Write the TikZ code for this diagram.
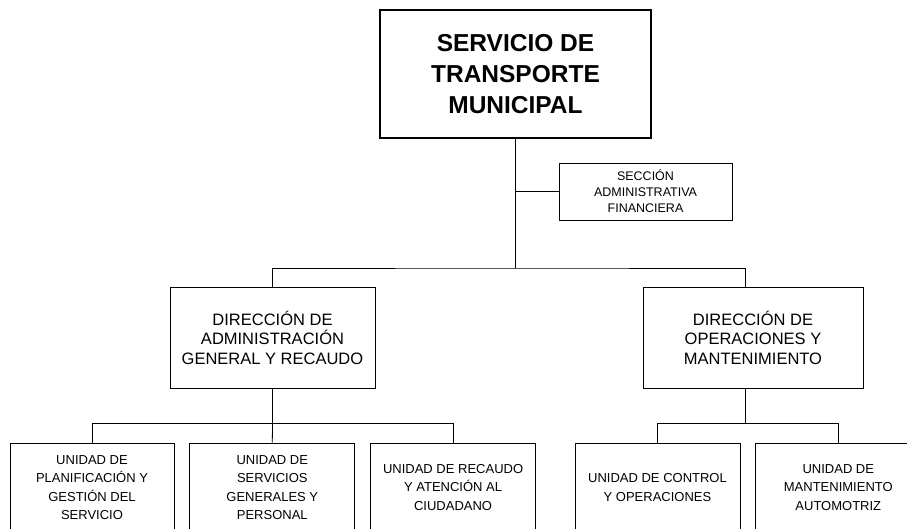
\documentclass[tikz,border=0pt]{standalone}
\usepackage{fontspec}
\setmainfont{Liberation Sans}
\usepackage{tikz}
\usetikzlibrary{positioning, calc}

\begin{document}
\begin{tikzpicture}[x=1pt, y=1pt, line width=0.8pt,
    every node/.style={align=center, draw=black, inner sep=2pt},
    headbox/.style={line width=1.6pt, minimum width=271pt, minimum height=128pt, font=\fontsize{24.5}{31}\selectfont\bfseries},
    secbox/.style={minimum width=173pt, minimum height=57pt, font=\fontsize{12.5}{16}\selectfont},
    dirbox/.style={minimum height=101pt, font=\fontsize{16.5}{19.5}\selectfont},
    unitbox/.style={minimum width=165pt, minimum height=89pt, font=\fontsize{13}{18.3}\selectfont}]
  \useasboundingbox (0,0) rectangle (907,529);
  % top level
  \node[headbox] (top) at (515.5,455) {SERVICIO DE\\TRANSPORTE\\MUNICIPAL};
  \node[secbox] (sec) at (645.5,337.5) {SECCIÓN\\ADMINISTRATIVA\\FINANCIERA};
  % directions
  \node[dirbox, minimum width=205pt] (dadm) at (272.5,337.5-146) {DIRECCIÓN DE\\ADMINISTRACIÓN\\GENERAL Y RECAUDO};
  \node[dirbox, minimum width=220pt] (dope) at (753,337.5-146) {DIRECCIÓN DE\\OPERACIONES Y\\MANTENIMIENTO};
  % units
  \node[unitbox, minimum width=164pt] (uplan) at (92,41.5) {UNIDAD DE\\PLANIFICACIÓN Y\\GESTIÓN DEL\\SERVICIO};
  \node[unitbox, right=15pt of uplan] (userv) {UNIDAD DE\\SERVICIOS\\GENERALES Y\\PERSONAL};
  \node[unitbox, right=15pt of userv] (urec) {UNIDAD DE RECAUDO\\Y ATENCIÓN AL\\CIUDADANO};
  \node[unitbox] (uctrl) at (657.5,41.5) {UNIDAD DE CONTROL\\Y OPERACIONES};
  \node[unitbox, right=15pt of uctrl] (umant) {UNIDAD DE\\MANTENIMIENTO\\AUTOMOTRIZ};
  % connectors
  \coordinate (hub) at (515.5,261);
  \draw (top.south) -- (hub);
  \draw (sec.west) -- (sec.west -| top.south);
  \draw (dadm.north) |- (hub) -| ([xshift=-8pt]dope.north);
  \draw (dadm.south) -- ++(0,-35) coordinate (jadm);
  \draw (uplan.north) |- (jadm) -| (urec.north);
  \draw (userv.north) -- (jadm);
  \draw ([xshift=-8pt]dope.south) -- ++(0,-35) coordinate (jope);
  \draw (uctrl.north) |- (jope) -| (umant.north);
\end{tikzpicture}
\end{document}
